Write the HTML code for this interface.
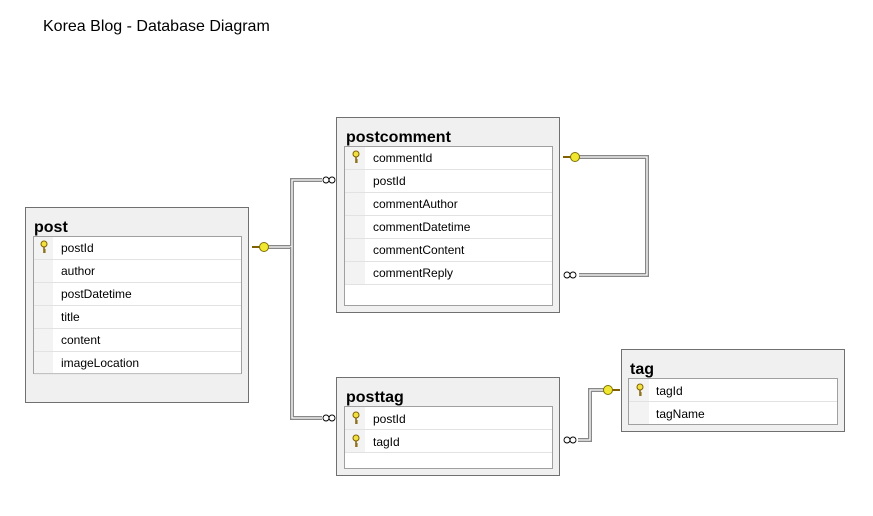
<!DOCTYPE html>
<html><head><meta charset="utf-8"><style>
body{margin:0;background:#fff;}
svg{display:block;font-family:"Liberation Sans",sans-serif;}
.t{font-size:16px;font-weight:bold;fill:#000}
.r{font-size:12px;fill:#000}
</style></head><body>
<svg width="873" height="516" viewBox="0 0 873 516">
<defs>
<g id="key"><circle cx="0" cy="-3" r="3" fill="#f0e040" stroke="#806000" stroke-width="1"/><line x1="0" y1="0" x2="0" y2="6" stroke="#806000" stroke-width="1.5"/><line x1="0" y1="3" x2="2" y2="3" stroke="#806000"/><line x1="0" y1="5" x2="2" y2="5" stroke="#806000"/></g>
<g id="hk"><line x1="-8" y1="0" x2="0" y2="0" stroke="#806000" stroke-width="2"/><circle cx="4" cy="0" r="4.5" fill="#f0e830" stroke="#807000" stroke-width="1"/></g>
<g id="inf"><circle cx="-4" cy="0" r="3" fill="#fff" stroke="#000" stroke-width="0.9"/><circle cx="2" cy="0" r="3" fill="#fff" stroke="#000" stroke-width="0.9"/></g>
</defs>
<text x="43" y="31" font-size="16" fill="#000">Korea Blog - Database Diagram</text>

<!-- connectors -->
<g fill="none" stroke-linejoin="miter">
<polyline points="265,247 292,247 292,180 322,180" stroke="#888" stroke-width="4"/>
<polyline points="265,247 292,247 292,180 322,180" stroke="#fff" stroke-width="1.3"/>
<polyline points="292,247 292,418 322,418" stroke="#888" stroke-width="4"/>
<polyline points="292,247 292,418 322,418" stroke="#fff" stroke-width="1.3"/>
<polyline points="578,157 647,157 647,275 579,275" stroke="#888" stroke-width="4"/>
<polyline points="578,157 647,157 647,275 579,275" stroke="#fff" stroke-width="1.3"/>
<polyline points="578,440 590,440 590,390 606,390" stroke="#888" stroke-width="4"/>
<polyline points="578,440 590,440 590,390 606,390" stroke="#fff" stroke-width="1.3"/>
</g>
<use href="#hk" x="260" y="247"/>
<use href="#inf" transform="translate(330,180)"/>
<use href="#inf" transform="translate(330,418)"/>
<use href="#hk" x="571" y="157"/>
<use href="#inf" transform="translate(571,275)"/>
<use href="#inf" transform="translate(571,440)"/>
<g transform="translate(612,390) scale(-1,1)"><use href="#hk"/></g>

<!-- post -->
<rect x="25.5" y="207.5" width="223" height="195" fill="#f0f0f0" stroke="#707070"/>
<text class="t" x="34" y="232">post</text>
<rect x="33.5" y="236.5" width="208" height="137" fill="#fff" stroke="#a0a0a0"/>
<rect x="34" y="237" width="19" height="136" fill="#f3f3f3"/>
<g stroke="#e2e2e2"><line x1="34" y1="259.5" x2="241" y2="259.5"/><line x1="34" y1="282.5" x2="241" y2="282.5"/><line x1="34" y1="305.5" x2="241" y2="305.5"/><line x1="34" y1="328.5" x2="241" y2="328.5"/><line x1="34" y1="351.5" x2="241" y2="351.5"/><line x1="34" y1="374" x2="241" y2="374"/></g>
<use href="#key" x="44" y="247"/>
<text class="r" x="61" y="252">postId</text><text class="r" x="61" y="275">author</text><text class="r" x="61" y="298">postDatetime</text><text class="r" x="61" y="321">title</text><text class="r" x="61" y="344">content</text><text class="r" x="61" y="367">imageLocation</text>

<!-- postcomment -->
<rect x="336.5" y="117.5" width="223" height="195" fill="#f0f0f0" stroke="#707070"/>
<text class="t" x="346" y="142">postcomment</text>
<rect x="344.5" y="146.5" width="208" height="159" fill="#fff" stroke="#a0a0a0"/>
<rect x="345" y="147" width="20" height="138" fill="#f3f3f3"/>
<g stroke="#e2e2e2"><line x1="345" y1="169.5" x2="552" y2="169.5"/><line x1="345" y1="192.5" x2="552" y2="192.5"/><line x1="345" y1="215.5" x2="552" y2="215.5"/><line x1="345" y1="238.5" x2="552" y2="238.5"/><line x1="345" y1="261.5" x2="552" y2="261.5"/><line x1="345" y1="284.5" x2="552" y2="284.5"/></g>
<use href="#key" x="356" y="157"/>
<text class="r" x="373" y="162">commentId</text><text class="r" x="373" y="185">postId</text><text class="r" x="373" y="208">commentAuthor</text><text class="r" x="373" y="231">commentDatetime</text><text class="r" x="373" y="254">commentContent</text><text class="r" x="373" y="277">commentReply</text>

<!-- posttag -->
<rect x="336.5" y="377.5" width="223" height="98" fill="#f0f0f0" stroke="#707070"/>
<text class="t" x="346" y="402">posttag</text>
<rect x="344.5" y="406.5" width="208" height="62" fill="#fff" stroke="#a0a0a0"/>
<rect x="345" y="407" width="20" height="45" fill="#f3f3f3"/>
<g stroke="#e2e2e2"><line x1="345" y1="429.5" x2="552" y2="429.5"/><line x1="345" y1="452.5" x2="552" y2="452.5"/></g>
<use href="#key" x="356" y="418"/><use href="#key" x="356" y="441"/>
<text class="r" x="373" y="423">postId</text><text class="r" x="373" y="446">tagId</text>

<!-- tag -->
<rect x="621.5" y="349.5" width="223" height="82" fill="#f0f0f0" stroke="#707070"/>
<text class="t" x="630" y="374">tag</text>
<rect x="628.5" y="378.5" width="209" height="46" fill="#fff" stroke="#a0a0a0"/>
<rect x="629" y="379" width="20" height="45" fill="#f3f3f3"/>
<line x1="629" y1="401.5" x2="837" y2="401.5" stroke="#e2e2e2"/>
<use href="#key" x="640" y="390"/>
<text class="r" x="656" y="395">tagId</text><text class="r" x="656" y="418">tagName</text>
</svg>
</body></html>
